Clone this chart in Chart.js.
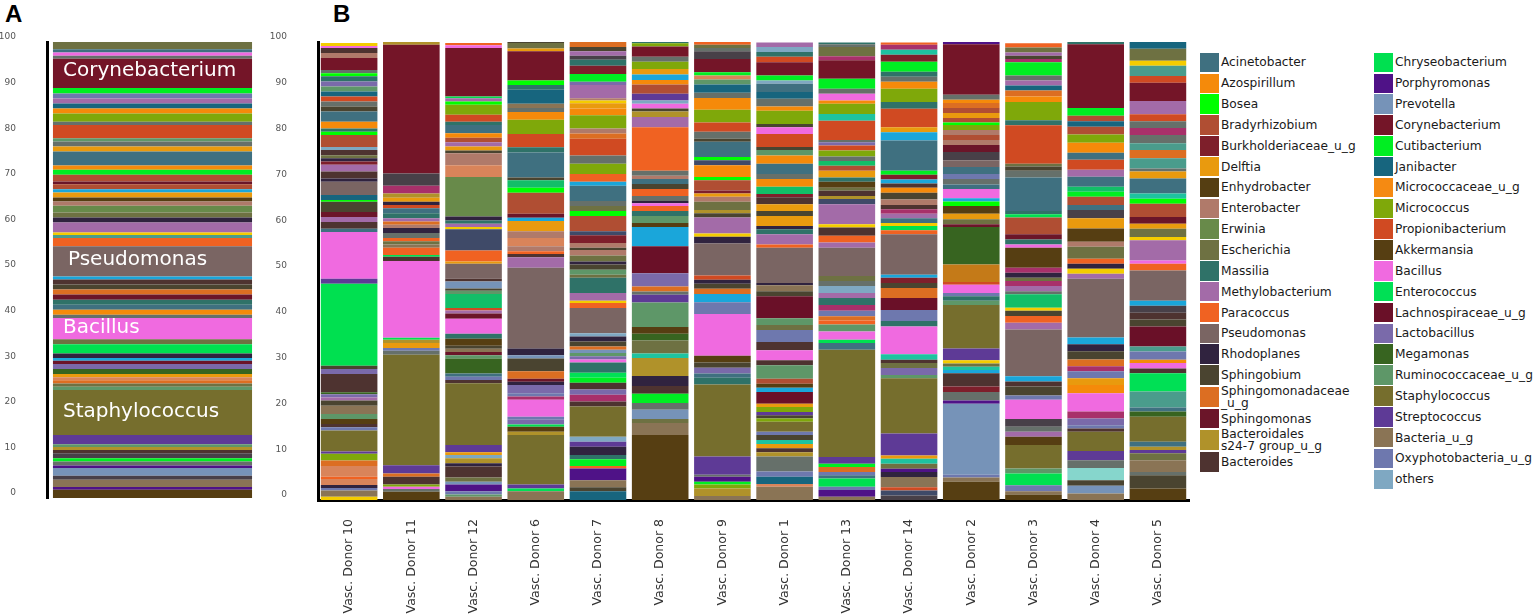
<!DOCTYPE html>
<html>
<head>
<meta charset="utf-8">
<script src="https://cdn.jsdelivr.net/npm/chart.js@4.4.1/dist/chart.umd.min.js"></script>
<style>
  html, body { margin:0; padding:0; background:#fff; }
  body { width:1535px; height:614px; position:relative; overflow:hidden; font-family:"DejaVu Sans", Verdana, sans-serif; }
  .box { position:absolute; top:0; height:614px; }
  #boxA { left:0; width:262px; }
  #boxB { left:262px; width:930px; }
  .panel { position:absolute; top:0px; font:bold 24px "Liberation Sans", Arial, sans-serif; color:#000; }
  .col { position:absolute; top:52px; display:flex; flex-direction:column; }
  .item { display:flex; align-items:center; font-size:12.2px; line-height:12px; color:#1a1a1a; white-space:pre; }
  .sw { width:19px; height:19.5px; margin-right:2px; flex:none; }
</style>
</head>
<body>
<div class="panel" style="left:5px;">A</div>
<div class="panel" style="left:333px;">B</div>
<div class="box" id="boxA"><canvas id="chartA" width="262" height="614"></canvas></div>
<div class="box" id="boxB"><canvas id="chartB" width="930" height="614"></canvas></div>
<div class="col" id="legCol1" style="left:1200px;"></div>
<div class="col" id="legCol2" style="left:1374px;"></div>
<script>
// ---------- taxa (legend) ----------
const taxaCodes = ["AC","AZ","BO","BR","BU","DE","EH","EB","ER","ES","MA","ME","PA","PS","RH","SB","SD","SM","BS","BT",
                   "CH","PO","PR","CO","CU","JA","MC","MI","PB","AK","BA","EC","LA","LB","MG","RU","ST","SR","BG","OX","OT"];
const taxaNames = ["Acinetobacter","Azospirillum","Bosea","Bradyrhizobium","Burkholderiaceae_u_g","Delftia","Enhydrobacter",
  "Enterobacter","Erwinia","Escherichia","Massilia","Methylobacterium","Paracoccus","Pseudomonas","Rhodoplanes","Sphingobium",
  "Sphingomonadaceae\n_u_g","Sphingomonas","Bacteroidales\ns24-7 group_u_g","Bacteroides",
  "Chryseobacterium","Porphyromonas","Prevotella","Corynebacterium","Cutibacterium","Janibacter","Micrococcaceae_u_g",
  "Micrococcus","Propionibacterium","Akkermansia","Bacillus","Enterococcus","Lachnospiraceae_u_g","Lactobacillus",
  "Megamonas","Ruminococcaceae_u_g","Staphylococcus","Streptococcus","Bacteria_u_g","Oxyphotobacteria_u_g","others"];
const taxaColors = ["#3F7080","#F58A0A","#00FF00","#B04E33","#7E1F2B","#E99A0E","#553E12","#B07A6A","#688A4A","#6E7142",
  "#2F7268","#A36BA8","#F06222","#7A6563","#30233F","#4A4430","#DC6E22","#6B1529","#B0922A","#4E3330",
  "#00E050","#4F1287","#7693B8","#741528","#00EE22","#17657E","#F58A12","#7FA80A","#D04A22","#563E12",
  "#F06AE0","#00E055","#6A1028","#7A6AAA","#376420","#5E9768","#766E2D","#5E3A96","#8A7455","#6E78AE","#7FA8C2"];
// minor taxa drawn in the bars but not listed in the legend
const unlistedCodes  = ["CY","YE","TQ","DG","MR","EG","PK","GR","SL","AQ","TE","OC"];
const unlistedColors = ["#1AA6DA","#F4CC00","#1EC3A0","#484048","#A8306A","#12BE68","#D9845A","#66706A","#3F4A68","#86D6CC","#4A9C8C","#C47A18"];

// ---------- categories ----------
const donorLabels = ["Vasc. Donor 10","Vasc. Donor 11","Vasc. Donor 12","Vasc. Donor 6","Vasc. Donor 7","Vasc. Donor 8",
  "Vasc. Donor 9","Vasc. Donor 1","Vasc. Donor 13","Vasc. Donor 14","Vasc. Donor 2","Vasc. Donor 3","Vasc. Donor 4","Vasc. Donor 5"];
const yTickStep = 10;

// ---------- relative abundance (%), segments listed bottom -> top ----------
const pooled = ["AK",1.8,"PO",0.6,"BG",1.6,"DG",0.9,"PR",1.7,"PO",0.5,"GR",0.9,"CU",0.7,"DG",1.1,"BT",0.7,"BS",0.7,"RU",0.6,"SR",2.0,
  "ST",9.9,"RU",0.7,"ES",0.7,"SD",0.7,"PK",0.7,"DE",0.7,"MG",1.1,"LB",1.1,"SM",0.7,"CY",0.6,"RH",1.0,"CH",2.0,"ES",1.1,"BA",4.7,
  "GR",0.7,"AZ",1.1,"AC",1.1,"MA",1.1,"SM",1.1,"SD",1.1,"SB",1.1,"BT",1.1,"CY",0.7,"PS",6.6,"PA",1.8,"TE",0.7,"YE",0.5,"ME",2.2,
  "RH",1.1,"ES",1.1,"ER",1.5,"EB",0.9,"AK",0.9,"DE",1.1,"CY",0.7,"BR",1.1,"SM",0.6,"BR",1.5,"CU",1.1,"AZ",0.9,"AC",3.1,"DE",1.1,
  "GR",1.1,"RU",0.7,"PB",2.9,"GR",0.7,"MI",1.8,"AZ",1.1,"JA",1.1,"ME",1.1,"OX",1.1,"CU",1.2,"CO",6.4,"GR",0.7,"BA",0.7,"AC",0.7,"ES",1.6];
const pooledLabels = ["Corynebacterium","Pseudomonas","Bacillus","Staphylococcus"];
const pooledLabelValues = [93.6, 52.2, 37.4, 18.8];

const donor10 = ["YE",0.7,"BG",1.4,"OX",0.5,"RH",0.7,"PK",1.3,"PA",0.5,"PK",2.3,"SD",1.2,"MI",1.5,"SR",0.5,"ST",4.6,"OX",0.7,"BT",0.7,
  "AK",1.1,"RU",1.1,"BG",1.8,"SB",1.1,"ME",0.7,"LB",0.7,"MG",0.4,"BT",4.0,"LB",1.1,"SB",0.7,"CH",17.9,"SR",1.1,"BA",10.2,"AC",0.7,
  "BT",1.5,"ME",1.1,"SM",1.1,"SB",2.2,"BO",0.4,"JA",1.1,"PS",2.9,"RH",0.7,"BT",1.5,"ME",1.5,"BU",0.7,"RH",0.7,"ES",0.7,"BT",1.1,
  "OT",0.7,"BR",2.6,"BO",0.7,"MA",0.7,"AZ",1.5,"AC",2.2,"SB",1.1,"GR",1.1,"PB",1.1,"JA",1.1,"RU",1.1,"LB",1.1,"MA",1.1,"BO",0.7,
  "GR",0.7,"CO",2.6,"EB",1.1,"BT",1.1,"BA",0.4,"YE",0.7];
const donor11 = ["AK",1.8,"GR",0.6,"BA",0.5,"MI",0.5,"BT",1.7,"SD",0.7,"SR",1.8,"ST",24.1,"GR",0.9,"OX",0.6,"DE",1.1,"BS",0.7,
  "CH",0.4,"BA",16.8,"BT",0.9,"CH",0.4,"PA",1.6,"BG",0.7,"ES",0.7,"PA",0.7,"GR",1.1,"RH",1.1,"EB",0.7,"SD",0.7,"ME",0.7,"MA",1.1,
  "AC",1.1,"PB",0.7,"RH",0.7,"DE",0.9,"BS",0.9,"MR",1.7,"DG",2.7,"CO",28.1,"BS",0.6];
const donor12 = ["BG",0.7,"RU",0.5,"OX",0.7,"PO",1.5,"PR",0.6,"ES",0.9,"BT",2.4,"RH",0.7,"BS",1.1,"OT",0.7,"DE",0.6,"SR",1.6,
  "ST",13.5,"BT",0.7,"OX",0.7,"AC",0.7,"MG",3.3,"RU",0.7,"SM",0.7,"BG",0.7,"SB",0.7,"AK",1.5,"MA",1.1,"BA",3.3,"SM",1.1,"ME",0.7,
  "PB",0.5,"EG",3.1,"RU",0.7,"SB",0.5,"PR",1.5,"BT",0.6,"PS",3.3,"DE",0.5,"PA",2.4,"SL",4.6,"YE",0.5,"ME",0.7,"MA",0.7,"RH",0.9,
  "ER",8.6,"PK",2.6,"EB",2.6,"SB",0.6,"DE",0.9,"ME",0.9,"BR",1.0,"AZ",1.0,"AC",1.8,"MA",0.7,"PB",1.5,"MI",2.2,"BO",0.7,"ME",0.7,
  "CH",0.4,"CO",10.6,"BA",0.6,"PA",0.5];
const donor6 = ["BG",1.9,"EC",0.6,"SR",0.9,"ST",10.8,"BS",0.7,"AK",1.1,"CH",0.5,"LB",1.0,"OX",0.7,"BA",3.7,"MR",0.7,"OX",0.7,
  "LB",1.8,"RH",0.7,"SM",0.7,"SD",1.6,"SB",2.8,"PR",0.7,"RH",1.5,"PS",17.6,"ME",2.3,"BT",0.7,"PA",0.6,"EB",1.1,"PK",1.8,"EB",1.5,
  "DE",2.2,"CY",0.7,"SM",0.9,"BR",4.6,"BO",1.1,"EG",1.6,"SB",0.6,"AC",5.5,"MA",1.1,"PB",2.9,"MI",3.1,"AZ",1.7,"GR",0.9,"BG",0.9,
  "JA",3.1,"MA",1.0,"BO",1.0,"CO",6.4,"DE",0.6,"ES",1.2,"SB",0.2];
const donor7 = ["JA",1.9,"SB",0.9,"BG",1.5,"PO",2.6,"PA",0.5,"CU",1.5,"MA",0.9,"RH",1.8,"SR",1.1,"OT",1.1,"ST",6.6,"BT",1.1,
  "MR",1.5,"LB",1.1,"BT",1.5,"CU",1.1,"EC",1.1,"MA",2.2,"BA",0.7,"LB",0.7,"RU",0.7,"PR",0.7,"SD",0.7,"SB",1.1,"RH",1.1,"OT",0.7,
  "PS",5.5,"PA",1.1,"YE",0.5,"ME",1.7,"MA",3.3,"ES",0.7,"RU",1.1,"SB",1.1,"RH",0.7,"ES",1.3,"EB",1.2,"SB",0.5,"EB",1.0,"BU",1.7,
  "SL",0.9,"BR",3.3,"BO",1.1,"ES",1.1,"GR",1.1,"AC",3.3,"CY",0.9,"PA",1.7,"MI",2.2,"GR",1.8,"PB",3.7,"SD",1.1,"EB",1.1,"MI",2.9,
  "AZ",1.5,"DE",1.1,"YE",0.6,"EB",0.5,"ME",2.9,"LB",0.7,"CU",1.7,"BU",1.8,"MA",1.3,"DG",0.9,"ME",1.0,"SB",0.9,"SD",1.1];
const donor8 = ["AK",14.2,"BG",2.6,"ES",0.9,"PR",2.0,"GR",1.5,"CU",2.0,"BT",1.7,"RH",2.2,"BS",3.9,"TQ",1.0,"ES",2.8,"MG",1.5,
  "AK",1.5,"RU",5.3,"SR",1.7,"GR",0.7,"SD",1.1,"LB",2.9,"LA",5.9,"CY",4.2,"AK",0.9,"RU",1.5,"MA",1.1,"PA",1.1,"BA",0.6,"RH",0.5,
  "GR",1.1,"PA",1.5,"SB",1.1,"AC",1.1,"EB",0.7,"GR",1.1,"PA",9.5,"ME",2.2,"BS",1.2,"SB",0.7,"BA",1.0,"OT",0.7,"SR",1.5,"BR",2.0,
  "AZ",1.0,"CY",1.2,"DE",1.2,"MI",1.6,"GR",1.1,"CO",2.2,"MI",0.7,"MA",0.3];
const donor9 = ["BG",0.9,"BS",1.6,"MI",0.9,"CU",0.6,"PO",1.1,"GR",0.4,"SR",4.0,"ST",15.7,"MA",1.5,"AC",0.9,"LB",1.3,"SB",1.1,
  "AK",1.5,"BA",9.1,"OX",2.6,"CY",1.8,"SD",1.1,"SB",1.1,"RH",0.9,"PB",0.9,"PS",7.0,"RH",1.5,"YE",0.7,"ME",3.5,"SB",0.9,"BS",0.7,
  "ES",1.8,"EB",1.1,"DE",0.7,"BU",0.7,"BR",2.2,"BO",0.7,"AZ",2.6,"SL",1.1,"BO",0.7,"AC",3.3,"SB",0.7,"GR",1.5,"PB",2.0,"MI",2.8,
  "AZ",2.6,"GR",1.1,"JA",1.8,"RU",1.1,"PK",0.9,"CU",0.7,"CO",2.9,"DG",1.7,"GR",0.7,"ES",0.7,"PA",0.6];
const donor1 = ["BG",2.9,"PK",0.6,"JA",1.6,"OX",1.1,"GR",3.3,"BS",0.9,"BT",0.9,"DE",0.9,"TQ",0.9,"SB",1.1,"OX",0.7,"ST",2.2,
  "MI",0.7,"SB",0.7,"SR",0.7,"MI",1.1,"DE",0.7,"LA",2.6,"CY",0.9,"AK",0.9,"BR",1.1,"RU",2.9,"BT",1.1,"BA",2.2,"BT",1.8,"OX",2.6,
  "ES",1.1,"RU",1.5,"LA",4.8,"SB",1.1,"BG",1.3,"RH",0.5,"PS",7.7,"PA",0.7,"ME",2.2,"MA",1.1,"RH",0.7,"DE",2.2,"SB",1.1,"DE",1.5,
  "BT",1.5,"BU",0.7,"EG",1.6,"AZ",1.7,"GR",1.1,"AC",2.2,"AZ",1.8,"RU",1.2,"SB",0.7,"PB",2.8,"BA",1.5,"SB",0.7,"MI",2.9,"AZ",0.9,
  "GR",1.7,"JA",1.5,"AC",1.8,"OT",0.7,"CU",1.1,"CO",2.9,"PB",1.2,"MA",1.0,"OT",1.1,"ME",1.0];
const donor13 = ["BG",0.7,"PO",1.5,"OX",0.7,"CH",1.8,"AC",0.7,"OX",0.7,"SD",1.1,"CU",0.7,"SR",1.5,"ST",23.4,"AC",1.5,"CH",0.7,
  "BA",1.8,"RU",1.5,"PA",0.9,"SD",0.9,"OX",1.2,"MR",1.3,"MA",1.5,"ME",1.1,"OT",1.5,"GR",1.1,"ES",1.1,"PS",6.2,"ME",1.1,"PA",1.5,
  "BT",1.8,"YE",0.7,"ME",4.4,"SL",1.1,"BS",0.7,"BT",1.1,"ES",0.7,"AK",1.3,"MA",0.9,"DE",1.5,"BR",1.1,"EG",1.0,"GR",1.0,"MI",1.3,
  "PB",1.1,"LB",0.7,"GR",0.5,"PB",4.2,"TQ",1.5,"MI",2.2,"AZ",0.7,"BA",1.5,"GR",1.1,"CU",2.2,"CO",4.0,"MR",0.9,"ES",2.0,"GR",0.6,"MA",0.4];
const donor14 = ["DG",1.0,"SL",1.1,"PB",0.7,"BG",2.2,"RH",1.1,"PO",0.7,"ES",1.1,"TQ",1.1,"DE",0.7,"SR",4.8,"ST",12.1,"RU",0.7,
  "LB",1.5,"ES",1.1,"BT",0.7,"TQ",1.2,"BA",6.1,"MA",1.2,"OX",2.4,"LA",2.6,"SD",2.2,"SB",1.1,"BU",1.1,"CY",0.7,"PS",8.8,"PA",0.9,
  "CH",0.9,"YE",0.7,"AC",1.0,"ME",1.0,"MR",1.0,"BT",0.9,"EB",1.2,"SB",1.5,"AZ",1.1,"BT",0.9,"CY",0.9,"BU",1.0,"CU",0.9,"AC",6.6,
  "CY",1.8,"DE",1.1,"PB",4.0,"MA",1.5,"MI",2.9,"AZ",1.5,"GR",1.1,"MA",1.1,"CU",2.2,"BU",1.5,"TQ",1.1,"MR",1.1,"PA",0.5];
const donor2 = ["AK",4.0,"BG",0.9,"OX",0.6,"PR",15.5,"PO",0.7,"GR",1.9,"BU",1.2,"BT",2.9,"CY",0.7,"TQ",0.7,"ES",0.7,"YE",0.7,
  "SR",2.6,"ST",9.5,"RU",0.9,"MA",1.0,"OX",0.7,"BA",1.8,"PB",0.6,"OC",3.8,"MG",8.2,"SM",0.6,"ES",1.1,"DE",1.2,"AK",1.7,"BO",1.0,
  "CY",0.7,"BA",2.0,"AC",1.0,"GR",1.2,"OX",1.1,"AC",1.5,"PS",1.5,"DG",1.8,"SM",1.5,"EB",1.1,"BR",1.1,"EB",1.1,"MI",1.1,"BO",0.5,
  "BR",1.0,"DE",1.1,"BR",1.1,"SD",1.1,"AZ",0.7,"GR",1.1,"CO",11.0,"PO",0.6];
const donor3 = ["AK",1.2,"BG",0.7,"OX",1.3,"CH",2.6,"RU",1.1,"ST",5.1,"AK",1.8,"ME",1.1,"GR",1.1,"DG",1.7,"BA",4.2,"OX",0.9,
  "SB",2.0,"BT",1.1,"CY",1.1,"PS",10.2,"ME",1.5,"PA",1.5,"SB",1.1,"YE",0.7,"EG",2.9,"GR",0.7,"ME",1.1,"MR",1.1,"ES",0.7,"RH",1.1,
  "MR",1.1,"AK",4.4,"BA",0.7,"MA",1.1,"SM",1.1,"BR",3.7,"CH",0.7,"MA",0.7,"AC",7.3,"GR",1.5,"SB",0.9,"ES",0.6,"PB",8.4,"MA",1.1,
  "MI",4.0,"AZ",1.2,"SD",1.3,"JA",1.1,"ME",1.1,"GR",1.1,"CU",2.9,"MR",0.7,"SB",0.7,"ME",0.7,"ES",1.1,"PA",0.9];
const donor4 = ["BG",1.4,"PR",1.7,"SB",1.2,"AQ",2.7,"GR",1.7,"SR",2.0,"ST",4.2,"BT",0.7,"OX",0.7,"LB",1.5,"MR",1.5,"BA",4.0,
  "AZ",1.8,"DE",1.5,"OX",1.5,"MR",1.1,"SD",1.5,"SB",1.8,"RH",1.5,"CY",1.5,"PS",12.8,"ME",1.1,"YE",1.1,"RH",1.1,"PA",1.1,"ES",2.6,
  "EB",1.1,"AK",2.9,"DE",2.2,"DG",1.8,"AC",1.1,"BR",1.8,"CU",1.1,"EG",1.1,"AC",2.2,"ME",1.5,"PB",2.2,"AC",1.5,"AZ",2.2,"MI",1.8,
  "BR",1.7,"JA",1.2,"BR",1.2,"CU",1.7,"CO",13.9,"MA",0.6];
const donor5 = ["AK",2.5,"SB",2.9,"GR",0.7,"BG",2.6,"ES",1.5,"SR",0.7,"BS",0.7,"AC",1.1,"ST",5.5,"MG",1.1,"AC",0.9,"TE",3.5,
  "EC",4.0,"BT",1.0,"BA",1.2,"AZ",0.7,"OX",1.8,"TE",1.1,"LA",4.4,"SB",1.5,"BT",1.5,"DG",1.5,"CY",1.1,"PS",6.6,"PA",1.5,"BA",0.7,
  "ME",4.4,"YE",0.7,"ES",1.8,"DE",1.1,"SM",1.5,"BR",2.9,"BO",1.1,"TQ",1.1,"AC",3.3,"DE",1.5,"GR",0.7,"TE",2.2,"SD",1.8,"TE",1.5,
  "GR",1.8,"MR",1.5,"GR",1.5,"PB",1.5,"ME",2.9,"CO",4.0,"PB",1.5,"TE",2.2,"YE",1.1,"ES",2.6,"JA",1.7];

const donorSegments = [donor10, donor11, donor12, donor6, donor7, donor8, donor9, donor1, donor13, donor14, donor2, donor3, donor4, donor5];

// ---------- helpers ----------
const colorOf = {};
taxaCodes.forEach((c, i) => colorOf[c] = taxaColors[i]);
unlistedCodes.forEach((c, i) => colorOf[c] = unlistedColors[i]);

function layeredDatasets(barList) {
  const parsed = barList.map(arr => {
    const segs = [];
    for (let i = 0; i < arr.length; i += 2) segs.push({ code: arr[i], v: arr[i + 1] });
    return segs;
  });
  const depth = Math.max(...parsed.map(s => s.length));
  const ds = [];
  for (let k = 0; k < depth; k++) {
    ds.push({
      data: parsed.map(s => s[k] ? s[k].v : null),
      backgroundColor: parsed.map(s => s[k] ? colorOf[s[k].code] : "rgba(0,0,0,0)"),
      borderWidth: 0,
      stack: "s"
    });
  }
  return ds;
}

const FONT = "'DejaVu Sans', Verdana, sans-serif";

function yAxis(width, pad) {
  return {
    stacked: true, min: 0, max: 100,
    grid: { display: false, drawTicks: false },
    border: { display: true, color: "#000", width: 3 },
    ticks: { stepSize: yTickStep, padding: pad, labelOffset: -5, color: "#555", font: { family: FONT, size: 9 } },
    afterFit(s) { s.width = width; }
  };
}

// ---------- panel A ----------
const labelPlugin = {
  id: "pooledLabels",
  afterDatasetsDraw(chart) {
    const ctx = chart.ctx;
    const ys = chart.scales.y;
    const bar = chart.getDatasetMeta(0).data[0];
    const left = bar.x - bar.width / 2;
    const xOff = [10, 15, 10, 10];
    ctx.save();
    ctx.fillStyle = "#fff";
    ctx.font = "20px " + FONT;
    ctx.textBaseline = "middle";
    ctx.textAlign = "left";
    pooledLabels.forEach((t, i) => ctx.fillText(t, left + xOff[i], ys.getPixelForValue(pooledLabelValues[i])));
    ctx.restore();
  }
};

new Chart(document.getElementById("chartA"), {
  type: "bar",
  data: { labels: [""], datasets: layeredDatasets([pooled]) },
  options: {
    responsive: false, animation: false,
    layout: { padding: { top: 42, right: 4.5, bottom: 116, left: 0 } },
    plugins: { legend: { display: false }, tooltip: { enabled: false } },
    datasets: { bar: { categoryPercentage: 1, barPercentage: 0.948 } },
    scales: {
      x: { stacked: true, display: false },
      y: yAxis(47.5, 31.5)
    }
  },
  plugins: [labelPlugin]
});

// ---------- panel B ----------
new Chart(document.getElementById("chartB"), {
  type: "bar",
  data: { labels: donorLabels, datasets: layeredDatasets(donorSegments) },
  options: {
    responsive: false, animation: false,
    layout: { padding: { top: 42, right: 2.5, bottom: 0, left: 0 } },
    plugins: { legend: { display: false }, tooltip: { enabled: false } },
    datasets: { bar: { categoryPercentage: 1, barPercentage: 0.91 } },
    scales: {
      x: {
        stacked: true,
        grid: { display: false, drawTicks: false },
        border: { display: true, color: "#000", width: 3 },
        ticks: { autoSkip: false, minRotation: 90, maxRotation: 90, padding: 19, color: "#333", font: { family: FONT, size: 12.5 } },
        afterFit(s) { s.height = 114; }
      },
      y: yAxis(56, 31)
    }
  }
});

// ---------- legend ----------
function buildLegend(colEl, from, to) {
  for (let i = from; i < to; i++) {
    const row = document.createElement("div");
    row.className = "item";
    const twoLine = taxaNames[i].includes("\n");
    row.style.height = (twoLine ? 22.6 : 20.85) + "px";
    const sw = document.createElement("div");
    sw.className = "sw";
    sw.style.background = taxaColors[i];
    const tx = document.createElement("span");
    tx.textContent = taxaNames[i];
    row.appendChild(sw); row.appendChild(tx);
    colEl.appendChild(row);
  }
}
buildLegend(document.getElementById("legCol1"), 0, 20);
buildLegend(document.getElementById("legCol2"), 20, 41);
</script>
</body>
</html>
